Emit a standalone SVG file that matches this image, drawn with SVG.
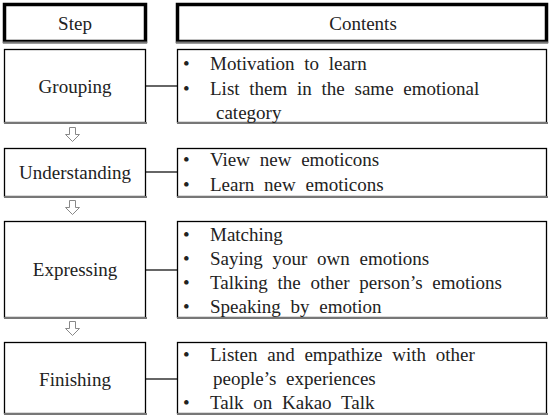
<svg xmlns="http://www.w3.org/2000/svg" width="553" height="419" viewBox="0 0 553 419">
<g id="header-step" fill="#fff" stroke="#000">
<rect x="4.5" y="4.5" width="141" height="37" stroke-width="3.5"/>
<line x1="3" y1="42.5" x2="147" y2="42.5" stroke="#777" stroke-width="2"/>
<text x="75" y="30" text-anchor="middle" stroke="none" fill="#222" font-family="Liberation Serif" font-size="19">Step</text>
</g>
<g id="header-contents" fill="#fff" stroke="#000">
<rect x="177.5" y="4.5" width="369" height="37" stroke-width="3.5"/>
<line x1="176" y1="42.5" x2="548" y2="42.5" stroke="#777" stroke-width="2"/>
<text x="363" y="30" text-anchor="middle" stroke="none" fill="#222" font-family="Liberation Serif" font-size="19">Contents</text>
</g>
<g id="connectors" stroke="#666" stroke-width="2" fill="none">
<line x1="146" y1="86" x2="177" y2="86"/>
<line x1="146" y1="172" x2="177" y2="172"/>
<line x1="146" y1="270" x2="177" y2="270"/>
<line x1="146" y1="379" x2="177" y2="379"/>
<g fill="#fff" stroke="#888" stroke-width="1">
<path d="M69.5,127.5 H75.5 V134.5 H79.5 L72.5,141.5 L65.5,134.5 H69.5 Z"/>
<path d="M69.5,200.5 H75.5 V207.5 H79.5 L72.5,214.5 L65.5,207.5 H69.5 Z"/>
<path d="M69.5,321.5 H75.5 V328.5 H79.5 L72.5,335.5 L65.5,328.5 H69.5 Z"/>
</g>
</g>
<g id="step-grouping" fill="#fff" stroke="#000" stroke-width="1.3">
<rect x="4.5" y="49.5" width="141" height="73"/>
<line x1="4" y1="123" x2="147" y2="123" stroke="#777" stroke-width="2"/>
<text x="75" y="93" text-anchor="middle" stroke="none" fill="#222" font-family="Liberation Serif" font-size="19">Grouping</text>
</g>
<g id="content-grouping" fill="#fff" stroke="#000" stroke-width="1.3">
<rect x="177.5" y="49.5" width="369" height="73"/>
<line x1="177" y1="123" x2="548" y2="123" stroke="#777" stroke-width="2"/>
<g stroke="none" fill="#222" font-family="Liberation Serif" font-size="19" word-spacing="5">
<text x="183" y="70" font-family="Liberation Serif" font-size="19">•</text>
<text x="210" y="70" font-family="Liberation Serif">Motivation to learn</text>
<text x="183" y="95" font-family="Liberation Serif" font-size="19">•</text>
<text x="210" y="95" font-family="Liberation Serif">List them in the same emotional</text>
<text x="216" y="119" font-family="Liberation Serif">category</text>
</g>
</g>
<g id="step-understanding" fill="#fff" stroke="#000" stroke-width="1.3">
<rect x="4.5" y="148.5" width="141" height="48"/>
<line x1="4" y1="197" x2="147" y2="197" stroke="#777" stroke-width="2"/>
<text x="75" y="179" text-anchor="middle" stroke="none" fill="#222" font-family="Liberation Serif" font-size="19">Understanding</text>
</g>
<g id="content-understanding" fill="#fff" stroke="#000" stroke-width="1.3">
<rect x="177.5" y="148.5" width="369" height="48"/>
<line x1="177" y1="197" x2="548" y2="197" stroke="#777" stroke-width="2"/>
<g stroke="none" fill="#222" font-family="Liberation Serif" font-size="19" word-spacing="5">
<text x="183" y="166" font-family="Liberation Serif" font-size="19">•</text>
<text x="210" y="166" font-family="Liberation Serif">View new emoticons</text>
<text x="183" y="191" font-family="Liberation Serif" font-size="19">•</text>
<text x="210" y="191" font-family="Liberation Serif">Learn new emoticons</text>
</g>
</g>
<g id="step-expressing" fill="#fff" stroke="#000" stroke-width="1.3">
<rect x="4.5" y="221.5" width="141" height="96"/>
<line x1="4" y1="318" x2="147" y2="318" stroke="#777" stroke-width="2"/>
<text x="75" y="276" text-anchor="middle" stroke="none" fill="#222" font-family="Liberation Serif" font-size="19">Expressing</text>
</g>
<g id="content-expressing" fill="#fff" stroke="#000" stroke-width="1.3">
<rect x="177.5" y="221.5" width="369" height="96"/>
<line x1="177" y1="318" x2="548" y2="318" stroke="#777" stroke-width="2"/>
<g stroke="none" fill="#222" font-family="Liberation Serif" font-size="19" word-spacing="5">
<text x="183" y="241" font-family="Liberation Serif" font-size="19">•</text>
<text x="210" y="241" font-family="Liberation Serif">Matching</text>
<text x="183" y="265" font-family="Liberation Serif" font-size="19">•</text>
<text x="210" y="265" font-family="Liberation Serif">Saying your own emotions</text>
<text x="183" y="289" font-family="Liberation Serif" font-size="19">•</text>
<text x="210" y="289" font-family="Liberation Serif">Talking the other person’s emotions</text>
<text x="183" y="313" font-family="Liberation Serif" font-size="19">•</text>
<text x="210" y="313" font-family="Liberation Serif">Speaking by emotion</text>
</g>
</g>
<g id="step-finishing" fill="#fff" stroke="#000" stroke-width="1.3">
<rect x="4.5" y="342.5" width="141" height="71"/>
<line x1="4" y1="414" x2="147" y2="414" stroke="#777" stroke-width="2"/>
<text x="75" y="386" text-anchor="middle" stroke="none" fill="#222" font-family="Liberation Serif" font-size="19">Finishing</text>
</g>
<g id="content-finishing" fill="#fff" stroke="#000" stroke-width="1.3">
<rect x="177.5" y="342.5" width="369" height="71"/>
<line x1="177" y1="414" x2="548" y2="414" stroke="#777" stroke-width="2"/>
<g stroke="none" fill="#222" font-family="Liberation Serif" font-size="19" word-spacing="5">
<text x="183" y="361" font-family="Liberation Serif" font-size="19">•</text>
<text x="210" y="361" font-family="Liberation Serif">Listen and empathize with other</text>
<text x="213" y="385" font-family="Liberation Serif">people’s experiences</text>
<text x="183" y="409" font-family="Liberation Serif" font-size="19">•</text>
<text x="210" y="409" font-family="Liberation Serif">Talk on Kakao Talk</text>
</g>
</g>
</svg>
